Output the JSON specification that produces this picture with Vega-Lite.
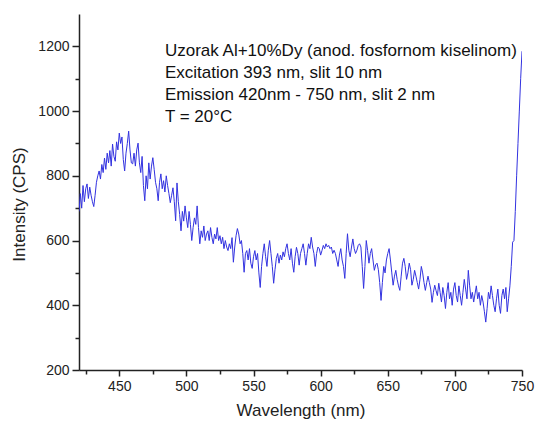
{
  "$schema": "https://vega.github.io/schema/vega-lite/v6.json",
  "width": 443,
  "height": 356,
  "autosize": {"type": "none"},
  "padding": {"left": 79, "top": 14, "right": 13, "bottom": 53},
  "config": {"view": {"stroke": null}, "font": "Liberation Sans"},
  "resolve": {"axis": {"x": "independent", "y": "independent"}},
  "layer": [
    {
      "data": {"values": [
{"nm":420,"cps":690},{"nm":421,"cps":745},{"nm":422,"cps":700},{"nm":423,"cps":770},{"nm":424,"cps":720},{"nm":425,"cps":760},{"nm":426,"cps":775},{"nm":427,"cps":730},{"nm":428,"cps":765},{"nm":429,"cps":740},
{"nm":430,"cps":720},{"nm":431,"cps":705},{"nm":432,"cps":740},{"nm":433,"cps":780},{"nm":434,"cps":800},{"nm":435,"cps":815},{"nm":436,"cps":790},{"nm":437,"cps":835},{"nm":438,"cps":810},{"nm":439,"cps":855},
{"nm":440,"cps":820},{"nm":441,"cps":870},{"nm":442,"cps":840},{"nm":443,"cps":878},{"nm":444,"cps":830},{"nm":445,"cps":898},{"nm":446,"cps":860},{"nm":447,"cps":845},{"nm":448,"cps":905},{"nm":449,"cps":880},
{"nm":450,"cps":932},{"nm":451,"cps":900},{"nm":452,"cps":920},{"nm":453,"cps":850},{"nm":454,"cps":815},{"nm":455,"cps":870},{"nm":456,"cps":900},{"nm":457,"cps":938},{"nm":458,"cps":880},{"nm":459,"cps":840},
{"nm":460,"cps":837},{"nm":461,"cps":870},{"nm":462,"cps":830},{"nm":463,"cps":880},{"nm":464,"cps":901},{"nm":465,"cps":840},{"nm":466,"cps":810},{"nm":467,"cps":860},{"nm":468,"cps":770},{"nm":469,"cps":723},
{"nm":470,"cps":800},{"nm":471,"cps":760},{"nm":472,"cps":840},{"nm":473,"cps":790},{"nm":474,"cps":830},{"nm":475,"cps":856},{"nm":476,"cps":820},{"nm":477,"cps":780},{"nm":478,"cps":760},{"nm":479,"cps":723},
{"nm":480,"cps":780},{"nm":481,"cps":806},{"nm":482,"cps":760},{"nm":483,"cps":785},{"nm":484,"cps":750},{"nm":485,"cps":800},{"nm":486,"cps":770},{"nm":487,"cps":745},{"nm":488,"cps":717},{"nm":489,"cps":740},
{"nm":490,"cps":763},{"nm":491,"cps":720},{"nm":492,"cps":661},{"nm":493,"cps":778},{"nm":494,"cps":720},{"nm":495,"cps":680},{"nm":496,"cps":630},{"nm":497,"cps":690},{"nm":498,"cps":660},{"nm":499,"cps":707},
{"nm":500,"cps":670},{"nm":501,"cps":640},{"nm":502,"cps":690},{"nm":503,"cps":650},{"nm":504,"cps":600},{"nm":505,"cps":640},{"nm":506,"cps":670},{"nm":507,"cps":650},{"nm":508,"cps":707},{"nm":509,"cps":640},
{"nm":510,"cps":590},{"nm":511,"cps":630},{"nm":512,"cps":610},{"nm":513,"cps":645},{"nm":514,"cps":600},{"nm":515,"cps":620},{"nm":516,"cps":630},{"nm":517,"cps":600},{"nm":518,"cps":640},{"nm":519,"cps":610},
{"nm":520,"cps":590},{"nm":521,"cps":620},{"nm":522,"cps":605},{"nm":523,"cps":640},{"nm":524,"cps":600},{"nm":525,"cps":615},{"nm":526,"cps":590},{"nm":527,"cps":610},{"nm":528,"cps":575},{"nm":529,"cps":600},
{"nm":530,"cps":580},{"nm":531,"cps":569},{"nm":532,"cps":590},{"nm":533,"cps":575},{"nm":534,"cps":609},{"nm":535,"cps":533},{"nm":536,"cps":580},{"nm":537,"cps":615},{"nm":538,"cps":637},{"nm":539,"cps":620},
{"nm":540,"cps":590},{"nm":541,"cps":600},{"nm":542,"cps":560},{"nm":543,"cps":502},{"nm":544,"cps":560},{"nm":545,"cps":569},{"nm":546,"cps":540},{"nm":547,"cps":575},{"nm":548,"cps":530},{"nm":549,"cps":514},
{"nm":550,"cps":550},{"nm":551,"cps":569},{"nm":552,"cps":540},{"nm":553,"cps":560},{"nm":554,"cps":500},{"nm":555,"cps":455},{"nm":556,"cps":520},{"nm":557,"cps":560},{"nm":558,"cps":590},{"nm":559,"cps":550},
{"nm":560,"cps":520},{"nm":561,"cps":570},{"nm":562,"cps":600},{"nm":563,"cps":560},{"nm":564,"cps":520},{"nm":565,"cps":468},{"nm":566,"cps":510},{"nm":567,"cps":545},{"nm":568,"cps":560},{"nm":569,"cps":530},
{"nm":570,"cps":555},{"nm":571,"cps":540},{"nm":572,"cps":565},{"nm":573,"cps":550},{"nm":574,"cps":575},{"nm":575,"cps":590},{"nm":576,"cps":560},{"nm":577,"cps":540},{"nm":578,"cps":575},{"nm":579,"cps":530},
{"nm":580,"cps":502},{"nm":581,"cps":550},{"nm":582,"cps":579},{"nm":583,"cps":560},{"nm":584,"cps":524},{"nm":585,"cps":560},{"nm":586,"cps":575},{"nm":587,"cps":590},{"nm":588,"cps":560},{"nm":589,"cps":524},
{"nm":590,"cps":560},{"nm":591,"cps":590},{"nm":592,"cps":575},{"nm":593,"cps":610},{"nm":594,"cps":580},{"nm":595,"cps":560},{"nm":596,"cps":520},{"nm":597,"cps":560},{"nm":598,"cps":580},{"nm":599,"cps":575},
{"nm":600,"cps":555},{"nm":601,"cps":569},{"nm":602,"cps":585},{"nm":603,"cps":575},{"nm":604,"cps":590},{"nm":605,"cps":580},{"nm":606,"cps":585},{"nm":607,"cps":575},{"nm":608,"cps":580},{"nm":609,"cps":560},
{"nm":610,"cps":570},{"nm":611,"cps":560},{"nm":612,"cps":540},{"nm":613,"cps":520},{"nm":614,"cps":555},{"nm":615,"cps":575},{"nm":616,"cps":540},{"nm":617,"cps":520},{"nm":618,"cps":483},{"nm":619,"cps":560},
{"nm":620,"cps":621},{"nm":621,"cps":570},{"nm":622,"cps":550},{"nm":623,"cps":580},{"nm":624,"cps":605},{"nm":625,"cps":575},{"nm":626,"cps":560},{"nm":627,"cps":570},{"nm":628,"cps":585},{"nm":629,"cps":590},
{"nm":630,"cps":580},{"nm":631,"cps":520},{"nm":632,"cps":452},{"nm":633,"cps":520},{"nm":634,"cps":600},{"nm":635,"cps":569},{"nm":636,"cps":530},{"nm":637,"cps":560},{"nm":638,"cps":575},{"nm":639,"cps":540},
{"nm":640,"cps":508},{"nm":641,"cps":525},{"nm":642,"cps":530},{"nm":643,"cps":510},{"nm":644,"cps":470},{"nm":645,"cps":415},{"nm":646,"cps":470},{"nm":647,"cps":520},{"nm":648,"cps":500},{"nm":649,"cps":540},
{"nm":650,"cps":560},{"nm":651,"cps":575},{"nm":652,"cps":540},{"nm":653,"cps":500},{"nm":654,"cps":462},{"nm":655,"cps":490},{"nm":656,"cps":508},{"nm":657,"cps":480},{"nm":658,"cps":460},{"nm":659,"cps":446},
{"nm":660,"cps":490},{"nm":661,"cps":530},{"nm":662,"cps":545},{"nm":663,"cps":520},{"nm":664,"cps":480},{"nm":665,"cps":500},{"nm":666,"cps":530},{"nm":667,"cps":510},{"nm":668,"cps":462},{"nm":669,"cps":480},
{"nm":670,"cps":508},{"nm":671,"cps":490},{"nm":672,"cps":470},{"nm":673,"cps":450},{"nm":674,"cps":480},{"nm":675,"cps":520},{"nm":676,"cps":500},{"nm":677,"cps":470},{"nm":678,"cps":446},{"nm":679,"cps":470},
{"nm":680,"cps":490},{"nm":681,"cps":470},{"nm":682,"cps":450},{"nm":683,"cps":409},{"nm":684,"cps":440},{"nm":685,"cps":462},{"nm":686,"cps":445},{"nm":687,"cps":430},{"nm":688,"cps":468},{"nm":689,"cps":440},
{"nm":690,"cps":410},{"nm":691,"cps":455},{"nm":692,"cps":430},{"nm":693,"cps":390},{"nm":694,"cps":440},{"nm":695,"cps":470},{"nm":696,"cps":420},{"nm":697,"cps":440},{"nm":698,"cps":400},{"nm":699,"cps":450},
{"nm":700,"cps":470},{"nm":701,"cps":430},{"nm":702,"cps":410},{"nm":703,"cps":460},{"nm":704,"cps":430},{"nm":705,"cps":400},{"nm":706,"cps":440},{"nm":707,"cps":480},{"nm":708,"cps":450},{"nm":709,"cps":420},
{"nm":710,"cps":508},{"nm":711,"cps":460},{"nm":712,"cps":420},{"nm":713,"cps":440},{"nm":714,"cps":410},{"nm":715,"cps":435},{"nm":716,"cps":460},{"nm":717,"cps":420},{"nm":718,"cps":440},{"nm":719,"cps":400},
{"nm":720,"cps":430},{"nm":721,"cps":410},{"nm":722,"cps":380},{"nm":723,"cps":348},{"nm":724,"cps":390},{"nm":725,"cps":440},{"nm":726,"cps":420},{"nm":727,"cps":460},{"nm":728,"cps":430},{"nm":729,"cps":400},
{"nm":730,"cps":380},{"nm":731,"cps":420},{"nm":732,"cps":450},{"nm":733,"cps":400},{"nm":734,"cps":375},{"nm":735,"cps":430},{"nm":736,"cps":450},{"nm":737,"cps":420},{"nm":738,"cps":455},{"nm":739,"cps":380},
{"nm":740,"cps":420},{"nm":741,"cps":460},{"nm":742,"cps":520},{"nm":743,"cps":595},{"nm":744,"cps":600},{"nm":745,"cps":690},{"nm":746,"cps":800},{"nm":747,"cps":900},{"nm":748,"cps":1000},{"nm":749,"cps":1100},
{"nm":750,"cps":1185}
      ]},
      "mark": {"type": "line", "color": "#3232e0", "strokeWidth": 1, "clip": true},
      "encoding": {
        "x": {
          "field": "nm", "type": "quantitative",
          "scale": {"domain": [420, 750], "nice": false, "zero": false},
          "axis": {
            "orient": "bottom",
            "title": "Wavelength (nm)",
            "values": [450,500,550,600,650,700,750],
            "grid": false,
            "domainColor": "#222", "domainWidth": 1.5,
            "tickColor": "#222", "tickWidth": 1.5, "tickSize": 6,
            "labelFontSize": 14, "labelColor": "#222", "labelPadding": 3,
            "labelOverlap": false, "labelFlush": false,
            "titleFontSize": 17, "titleFontWeight": "normal", "titleColor": "#222", "titlePadding": 9
          }
        },
        "y": {
          "field": "cps", "type": "quantitative",
          "scale": {"domain": [200, 1300], "nice": false, "zero": false},
          "axis": {
            "orient": "left",
            "title": "Intensity (CPS)",
            "titleY": 190,
            "values": [200,400,600,800,1000,1200],
            "format": "d",
            "grid": false,
            "domainColor": "#222", "domainWidth": 1.5,
            "tickColor": "#222", "tickWidth": 1.5, "tickSize": 7,
            "labelFontSize": 14, "labelColor": "#222", "labelPadding": 3,
            "labelOverlap": false, "labelFlush": false,
            "titleFontSize": 17, "titleFontWeight": "normal", "titleColor": "#222", "titlePadding": 9
          }
        }
      }
    },
    {
      "data": {"values": [
        {"nm": 484, "cps": 1185, "label": "Uzorak Al+10%Dy (anod. fosfornom kiselinom)"},
        {"nm": 484, "cps": 1117, "label": "Excitation 393 nm, slit 10 nm"},
        {"nm": 484, "cps": 1049, "label": "Emission 420nm - 750 nm, slit 2 nm"},
        {"nm": 484, "cps": 982, "label": "T = 20°C"}
      ]},
      "mark": {"type": "text", "align": "left", "baseline": "middle", "fontSize": 17, "color": "#111", "font": "Liberation Sans"},
      "encoding": {
        "x": {
          "field": "nm", "type": "quantitative",
          "axis": {
            "orient": "bottom", "title": null, "labels": false, "domain": false, "grid": false,
            "values": [425,475,525,575,625,675,725],
            "tickColor": "#222", "tickWidth": 1.5, "tickSize": 4
          }
        },
        "y": {
          "field": "cps", "type": "quantitative",
          "axis": {
            "orient": "left", "title": null, "labels": false, "domain": false, "grid": false,
            "values": [300,500,700,900,1100],
            "tickColor": "#222", "tickWidth": 1.5, "tickSize": 4
          }
        },
        "text": {"field": "label"}
      }
    }
  ]
}
